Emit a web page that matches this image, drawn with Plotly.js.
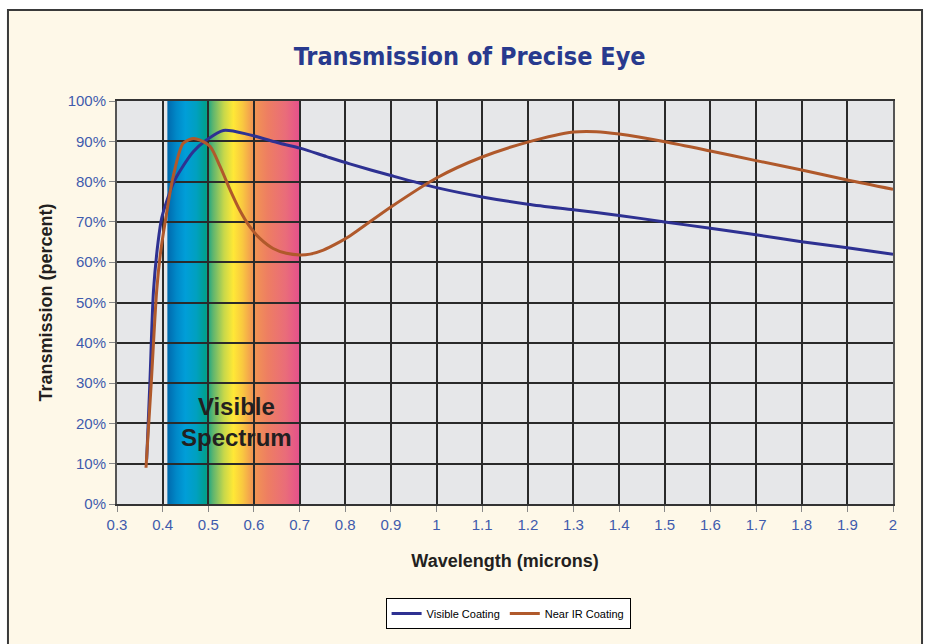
<!DOCTYPE html>
<html>
<head>
<meta charset="utf-8">
<script src="https://cdn.plot.ly/plotly-3.0.1.min.js"></script>
<style>html,body{margin:0;padding:0;background:#fff;}#chart{width:930px;height:644px;}</style>
</head>
<body>
<div id="chart"></div>
<script>
// Data
var visibleX = [0.365, 0.372, 0.38, 0.39, 0.398, 0.41, 0.425, 0.44, 0.467, 0.496, 0.533, 0.591, 0.657, 0.701, 0.759, 0.81, 0.9, 1.0, 1.1, 1.2, 1.3, 1.4, 1.5, 1.6, 1.7, 1.8, 1.9, 2.0];
var visibleY = [11, 30, 53, 65, 71, 75.5, 80, 83, 87.4, 90.3, 92.7, 91.6, 89.5, 88.3, 86.2, 84.4, 81.5, 78.5, 76.2, 74.4, 73, 71.6, 70, 68.4, 66.8, 65.1, 63.6, 62];

var nearIrX = [0.3635, 0.375, 0.387, 0.395, 0.405, 0.423, 0.445, 0.467, 0.482, 0.504, 0.526, 0.548, 0.569, 0.591, 0.613, 0.642, 0.671, 0.701, 0.723, 0.752, 0.789, 0.81, 0.9, 1.0, 1.1, 1.2, 1.3, 1.35, 1.4, 1.5, 1.6, 1.7, 1.8, 1.9, 2.0];
var nearIrY = [9, 30, 53, 62, 69.6, 81.2, 89.5, 90.7, 90.3, 88.7, 83.7, 77.9, 72.9, 68.8, 65.9, 63.4, 62.2, 61.8, 62, 63, 65.1, 66.5, 73.7, 80.9, 86.1, 89.8, 92.3, 92.4, 91.8, 89.9, 87.6, 85.2, 82.9, 80.4, 78.1];

var seriesNames = ['Visible Coating', 'Near IR Coating'];
var spectrumStart = 0.41, spectrumEnd = 0.70;
var spectrumLabel = 'Visible<br>Spectrum';
var chartTitle = 'Transmission of Precise Eye';
var xTitle = 'Wavelength (microns)';
var yTitle = 'Transmission (percent)';

// Gradient for the visible spectrum band
var stops = [
  [0, '#0068AC'], [6.9, '#0088C8'], [13.8, '#009ED8'], [22, '#00A0C0'],
  [29.3, '#00A08C'], [34.5, '#5DB56F'], [43, '#C8D84A'], [50, '#FFE836'],
  [56.9, '#F9C840'], [63.8, '#F29A50'], [75.9, '#EE7E62'], [89.7, '#E96C7A'], [100, '#E5508C']
];
var svg = '<svg xmlns="http://www.w3.org/2000/svg" width="300" height="100" preserveAspectRatio="none" viewBox="0 0 300 100">' +
  '<defs><linearGradient id="g" x1="0" y1="0" x2="1" y2="0">' +
  stops.map(function (s) { return '<stop offset="' + s[0] + '%" stop-color="' + s[1] + '"/>'; }).join('') +
  '</linearGradient></defs><rect x="0" y="0" width="300" height="100" fill="url(#g)"/></svg>';
var svgUri = 'data:image/svg+xml;charset=utf-8,' + encodeURIComponent(svg);

var tickFont = {family: 'Liberation Sans, Arial, sans-serif', size: 15, color: '#3F5BAD'};
var axTitleFont = {family: 'Liberation Sans, Arial, sans-serif', size: 18, color: '#231F20', weight: 'bold'};

var traces = [
  {x: visibleX, y: visibleY, name: seriesNames[0], type: 'scatter', mode: 'lines',
   line: {color: '#2E3192', width: 3, shape: 'spline', smoothing: 0.8}, cliponaxis: true},
  {x: nearIrX, y: nearIrY, name: seriesNames[1], type: 'scatter', mode: 'lines',
   line: {color: '#B0592B', width: 3, shape: 'spline', smoothing: 0.8}, cliponaxis: true}
];

var layout = {
  width: 930, height: 644,
  margin: {l: 117, r: 37, t: 101, b: 140},
  paper_bgcolor: '#FEF8E8',
  plot_bgcolor: '#E6E7E9',
  showlegend: true,
  title: {text: chartTitle, x: 0.505, xref: 'container', xanchor: 'center', y: 0.913, yref: 'container', yanchor: 'middle',
    font: {family: 'Liberation Sans Narrow, DejaVu Sans Condensed, Arial Narrow, sans-serif', size: 25, color: '#283A8E', weight: 'bold'}},
  xaxis: {
    range: [0.3, 2.0], dtick: 0.1, tick0: 0.3, tickmode: 'linear',
    showgrid: true, gridcolor: '#2A2A2A', gridwidth: 2,
    showline: true, linecolor: '#333', linewidth: 2, mirror: true,
    ticks: 'outside', ticklen: 6, tickcolor: '#888', tickwidth: 1,
    tickfont: tickFont, zeroline: false,
    title: {text: xTitle, font: axTitleFont, standoff: 22}
  },
  yaxis: {
    range: [0, 100], dtick: 10, tick0: 0, tickmode: 'linear', ticksuffix: '%',
    showgrid: true, gridcolor: '#2A2A2A', gridwidth: 2,
    showline: true, linecolor: '#555', linewidth: 2, mirror: true,
    ticks: 'outside', ticklen: 6, tickcolor: '#888', tickwidth: 1,
    tickfont: tickFont, zeroline: false,
    title: {text: yTitle, font: axTitleFont, standoff: 10}
  },
  legend: {
    orientation: 'h', x: 0.504, xanchor: 'center', y: -0.233, yanchor: 'top',
    bgcolor: '#FFFFFF', bordercolor: '#000', borderwidth: 1,
    font: {family: 'Liberation Sans, Arial, sans-serif', size: 11, color: '#000'},
    itemwidth: 30, tracegroupgap: 0
  },
  images: [{
    source: svgUri, xref: 'x', yref: 'y', x: spectrumStart, y: 100,
    sizex: spectrumEnd - spectrumStart, sizey: 100, xanchor: 'left', yanchor: 'top',
    sizing: 'stretch', layer: 'below', opacity: 1
  }],
  annotations: [{
    text: spectrumLabel, x: 0.561, y: 20.3, xref: 'x', yref: 'y', showarrow: false,
    font: {family: 'Liberation Sans, Arial, sans-serif', size: 24, color: '#231F20', weight: 'bold'}
  }],
  shapes: [
    {type: 'rect', xref: 'paper', yref: 'paper', x0: -0.2, x1: 1.1, y0: 1.2258, y1: 1.3, fillcolor: '#FFFFFF', line: {width: 0}, layer: 'below'},
    {type: 'rect', xref: 'paper', yref: 'paper', x0: -0.2, x1: -0.1405, y0: -0.5, y1: 1.3, fillcolor: '#FFFFFF', line: {width: 0}, layer: 'below'},
    {type: 'rect', xref: 'paper', yref: 'paper', x0: 1.0374, x1: 1.1, y0: -0.5, y1: 1.3, fillcolor: '#FFFFFF', line: {width: 0}, layer: 'below'},
    {type: 'rect', xref: 'paper', yref: 'paper', x0: -0.1405, x1: 1.0374, y0: -0.5, y1: 1.2258, fillcolor: 'rgba(0,0,0,0)', line: {color: '#3A3A3A', width: 2}, layer: 'above'}
  ]
};

Plotly.newPlot('chart', traces, layout, {displayModeBar: false, staticPlot: true});
</script>
</body>
</html>
